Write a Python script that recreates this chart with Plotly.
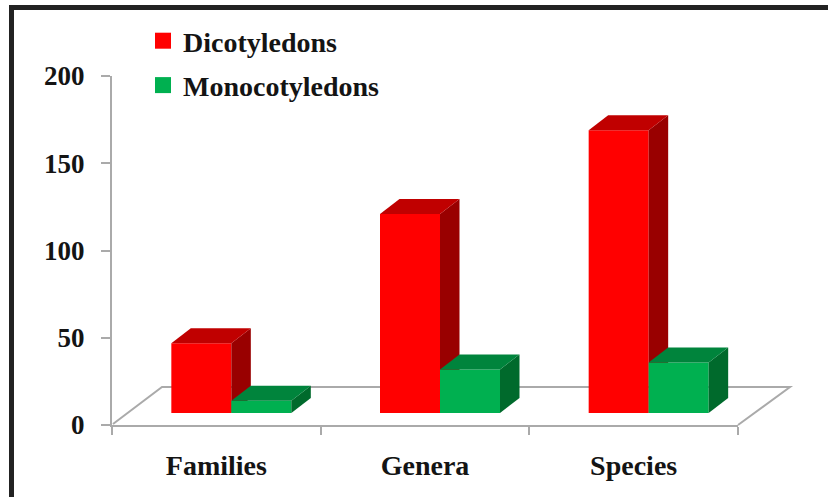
import plotly.graph_objects as go

categories = ["Families", "Genera", "Species"]
dicotyledons = [40, 114, 162]
monocotyledons = [7, 25, 29]
y_ticks = [0, 50, 100, 150, 200]

W, H = 828, 497
L, R, T, B = 112, 738, 76, 425
FONT = "Liberation Serif"
TEXT = "#141414"
AXIS = "#aaaaaa"

ux = (R - L) / 3          # px per category
uy = (B - T) / 200        # px per value unit
BAR_W = 60 / ux
SPLIT = 15 / ux
DX = 19.5 / ux
DY = 15 / uy
BASE = 12 / uy

px = lambda x: (x - L) / (R - L)
py = lambda y: (B - y) / (B - T)

fig = go.Figure()

def faces(name, vals, left_shift, front, top, side, xa, ya):
    xs = [i + 0.5 + left_shift for i in range(len(vals))]
    fig.add_trace(go.Bar(x=xs, y=vals, base=BASE, width=BAR_W, offset=0, name=name,
                         marker=dict(color=front, line=dict(width=0)), showlegend=False,
                         xaxis=xa, yaxis=ya))
    for x, v in zip(xs, vals):
        y1 = BASE + v
        fig.add_trace(go.Scatter(
            x=[x + BAR_W, x + BAR_W + DX, x + BAR_W + DX, x + BAR_W, x + BAR_W],
            y=[BASE, BASE + DY, y1 + DY, y1, BASE],
            mode="lines", fill="toself", fillcolor=side, line=dict(width=0),
            showlegend=False, hoverinfo="skip", cliponaxis=False, xaxis=xa, yaxis=ya))
        fig.add_trace(go.Scatter(
            x=[x, x + DX, x + BAR_W + DX, x + BAR_W, x],
            y=[y1, y1 + DY, y1 + DY, y1, y1],
            mode="lines", fill="toself", fillcolor=top, line=dict(width=0),
            showlegend=False, hoverinfo="skip", cliponaxis=False, xaxis=xa, yaxis=ya))

faces("Dicotyledons", dicotyledons, SPLIT - BAR_W, "#ff0000", "#c00000", "#990000", "x", "y")
faces("Monocotyledons", monocotyledons, SPLIT, "#00b050", "#00843c", "#006a2c", "x2", "y2")

for name, color in [("Dicotyledons", "#ff0000"), ("Monocotyledons", "#00b050")]:
    fig.add_trace(go.Scatter(x=[None], y=[None], mode="markers", name=name, legendgroup=name,
                             marker=dict(symbol="square", size=16, color=color)))

shapes = [
    # floor of the 3-D box
    dict(type="path", xref="paper", yref="paper", layer="below",
         path=f"M {px(113)},{py(424)} L {px(162)},{py(387)} L {px(790)},{py(387)} L {px(738)},{py(425)}",
         line=dict(color=AXIS, width=2)),
    # picture frame
    dict(type="rect", xref="paper", yref="paper", layer="above",
         x0=px(9), x1=px(14), y0=py(5), y1=py(H), fillcolor="#222222", line=dict(width=0)),
    dict(type="rect", xref="paper", yref="paper", layer="above",
         x0=px(9), x1=px(W), y0=py(5), y1=py(10), fillcolor="#222222", line=dict(width=0)),
]

fig.update_layout(
    width=W, height=H,
    margin=dict(l=L, r=W - R, t=T, b=H - B, pad=0),
    paper_bgcolor="white", plot_bgcolor="white",
    barmode="overlay", shapes=shapes,
    font=dict(family=FONT, size=27, color=TEXT, weight="bold"),
    legend=dict(x=px(143), y=py(16), xanchor="left", yanchor="top",
                bgcolor="rgba(0,0,0,0)", tracegroupgap=5, itemclick=False,
                font=dict(family=FONT, size=28, color=TEXT, weight="bold")),
    xaxis=dict(range=[0, 3], tickvals=[0.5, 1.5, 2.5], ticktext=categories,
               ticks="", showgrid=False, zeroline=False, showline=True, automargin=False,
               linecolor=AXIS, linewidth=2, ticklabelstandoff=14,
               tickfont=dict(size=28),
               minor=dict(tickvals=[0, 1, 2, 3], ticks="outside", ticklen=8,
                          tickcolor=AXIS, tickwidth=2, showgrid=False)),
    yaxis=dict(range=[0, 200], tickvals=y_ticks, ticks="outside", ticklen=9,
               tickcolor=AXIS, tickwidth=2, showgrid=False, zeroline=False, automargin=False,
               showline=True, linecolor=AXIS, linewidth=2, ticklabelstandoff=11),
    xaxis2=dict(range=[0, 3], overlaying="x", visible=False),
    yaxis2=dict(range=[0, 200], overlaying="y", visible=False),
)

fig.write_html("out.html", config={"displayModeBar": False},
               post_script="document.body.style.margin='0';")
